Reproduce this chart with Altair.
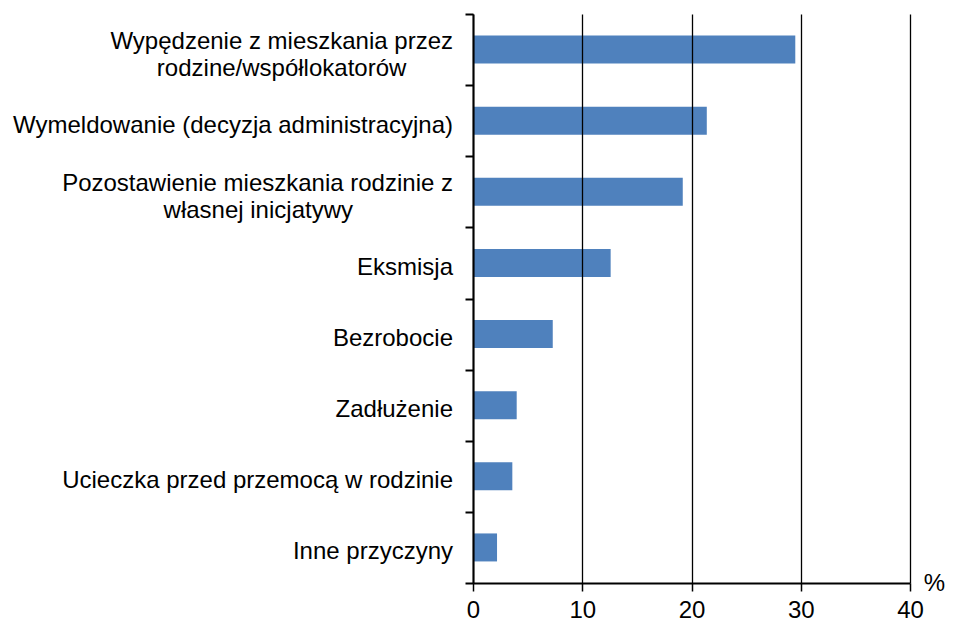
import altair as alt
import pandas as pd

PAD = "\u00a0"
END = "\u2060"
categories = [
    "Wypędzenie z mieszkania przez\nrodzine/współlokatorów" + PAD * 7 + END,
    "Wymeldowanie (decyzja administracyjna)",
    "Pozostawienie mieszkania rodzinie z\nwłasnej inicjatywy" + PAD * 15 + END,
    "Eksmisja",
    "Bezrobocie",
    "Zadłużenie",
    "Ucieczka przed przemocą w rodzinie",
    "Inne przyczyny",
]
values = [29.5, 21.4, 19.2, 12.6, 7.3, 4.0, 3.6, 2.2]
x_ticks = [0, 10, 20, 30, 40]

df = pd.DataFrame({"label": categories, "value": values})

FONT = "Liberation Sans"
yscale = alt.Scale(domain=categories, paddingInner=0, paddingOuter=0)

yaxis = alt.Axis(
    title=None,
    labelExpr="''",
    labelPadding=0,
    tickBand="extent",
    ticks=True,
    tickColor="#000000",
    tickWidth=2,
    tickSize=8,
    domainColor="#000000",
    domainWidth=2,
    grid=False,
    zindex=1,
)

base = alt.Chart(df)

bars = base.mark_bar(color="#4F81BD", size=28).encode(
    x=alt.X(
        "value:Q",
        scale=alt.Scale(domain=[0, 40], nice=False),
        axis=alt.Axis(
            values=x_ticks,
            title="%",
            titleX=461,
            titleY=0,
            titleAlign="center",
            titleBaseline="middle",
            titleFont=FONT,
            titleFontSize=24,
            titleFontWeight="normal",
            titleColor="#000000",
            grid=True,
            gridColor="#000000",
            gridWidth=1.3,
            domainColor="#000000",
            domainWidth=2,
            tickColor="#000000",
            tickWidth=1.5,
            tickSize=8,
            labelFont=FONT,
            labelFontSize=24,
            labelColor="#000000",
            labelPadding=7,
            labelFlush=False,
            zindex=1,
        ),
    ),
    y=alt.Y("label:N", scale=yscale, axis=yaxis),
)

text_style = dict(
    align="right",
    baseline="middle",
    font=FONT,
    fontSize=24,
    color="#000000",
    lineBreak="\n",
    lineHeight=27,
)

single = (
    base.transform_filter("indexof(datum.label, '\\n') < 0")
    .mark_text(dy=5, **text_style)
    .encode(
        y=alt.Y("label:N", scale=yscale, axis=yaxis),
        x=alt.value(-20),
        text="label:N",
    )
)

multi = (
    base.transform_filter("indexof(datum.label, '\\n') >= 0")
    .mark_text(dy=-8, **text_style)
    .encode(
        y=alt.Y("label:N", scale=yscale, axis=yaxis),
        x=alt.value(-20),
        text="label:N",
    )
)

chart = (
    alt.layer(bars, single, multi)
    .properties(
        width=437,
        height=569,
        autosize=alt.AutoSizeParams(type="none"),
        padding={"left": 465, "top": 6, "right": 36, "bottom": 40},
    )
    .configure_view(strokeWidth=0)
)

chart.save("out.html", embed_options={"renderer": "svg", "actions": False})
